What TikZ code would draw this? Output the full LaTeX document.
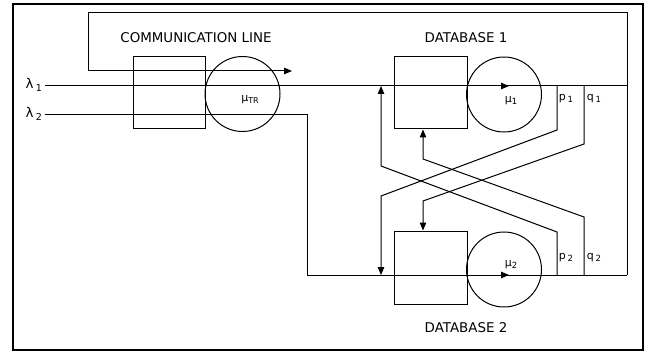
\documentclass[tikz,border=0pt]{standalone}
\usepackage{fontspec}
\setmainfont{DejaVu Sans}
\usetikzlibrary{arrows.meta}
\begin{document}
\begin{tikzpicture}[x=1pt,y=-1pt,
  wire/.style={line width=1pt},
  arr/.style={wire,-{Triangle[length=8pt,width=6.5pt]}},
  boxnode/.style={draw,line width=1pt,inner sep=0pt,minimum width=72pt,minimum height=72pt},
  circnode/.style={draw,line width=1pt,circle,inner sep=0pt,minimum size=75pt},
  lbl/.style={inner sep=0pt,font=\fontsize{13.4}{15}\selectfont},
  sml/.style={inner sep=0pt,font=\fontsize{11}{13}\selectfont}]
\useasboundingbox (0,0) rectangle (649,353);
\draw[line width=2.8pt] (13,4) rectangle (643,350);
% queues
\node[boxnode] (cbox) at (169,93) {};
\node[circnode] (ccirc) at (242.5,94) {};
\node[boxnode,minimum width=73pt] (b1) at (430.5,93) {};
\node[circnode] (c1) at (504,94.5) {};
\node[boxnode,minimum width=73pt,minimum height=73pt] (b2) at (430.5,267.5) {};
\node[circnode] (c2) at (504,269.5) {};
% titles
\node[lbl] (tcom) at (196,38) {COMMUNICATION LINE};
\node[lbl] (tdb1) at (466,38) {DATABASE 1};
\node[lbl] (tdb2) at (466,328) {DATABASE 2};
% coordinates
\coordinate (l1s) at (45,86);
\coordinate (l1e) at (627,86);
\coordinate (l2s) at (45,115);
\coordinate (l2c) at (307,115);
\coordinate (l2d) at (307,275);
\coordinate (l2e) at (627,275);
\coordinate (la) at (88,71);
\coordinate (lb) at (88,13);
\coordinate (lc) at (627,13);
\coordinate (ltip) at (292,71);
\coordinate (m1a) at (470,86);
\coordinate (m1t) at (509,86);
\coordinate (m2a) at (470,275);
\coordinate (m2t) at (509,275);
% lambda lines
\node[lbl,anchor=east] (lam1) at (42,85) {λ\,\raisebox{-2.5pt}{\fontsize{9.5}{10}\selectfont 1}};
\node[lbl,anchor=east] (lam2) at (42,114) {λ\,\raisebox{-2.5pt}{\fontsize{9.5}{10}\selectfont 2}};
\draw[wire] (l1s) -- (l1e);
\draw[wire] (l2s) -- (l2c) -- (l2d) -- (l2e);
\draw[wire] (l1e) -- (lc) -- (lb) -- (la);
\draw[arr] (la) -- (ltip);
\draw[wire] (lc) -- (l2e);
\draw[arr] (m1a) -- (m1t);
\draw[arr] (m2a) -- (m2t);
% feedback routes
\coordinate (p1a) at (557,86);  \coordinate (p1b) at (557,130);
\coordinate (p1c) at (381,196); \coordinate (p1d) at (381,275);
\coordinate (q1a) at (584,86);  \coordinate (q1b) at (584,144);
\coordinate (q1c) at (423,201); \coordinate (q1d) at (b2.north -| q1c);
\coordinate (p2a) at (557,275); \coordinate (p2b) at (557,232);
\coordinate (p2c) at (381,166); \coordinate (p2d) at (381,86);
\coordinate (q2a) at (584,275); \coordinate (q2b) at (584,217);
\coordinate (q2c) at (423,159); \coordinate (q2d) at (b1.south -| q2c);
\draw[arr] (p1a) -- (p1b) -- (p1c) -- (p1d);
\draw[arr] (q1a) -- (q1b) -- (q1c) -- (q1d);
\draw[arr] (p2a) -- (p2b) -- (p2c) -- (p2d);
\draw[arr] (q2a) -- (q2b) -- (q2c) -- (q2d);
% labels
\node[sml] (mtr) at (250,100) {μ\raisebox{-2pt}{\fontsize{8}{9}\selectfont TR}};
\node[sml] (mu1) at (511,101) {μ\raisebox{-2pt}{\fontsize{8.5}{9}\selectfont 1}};
\node[sml] (mu2) at (511,265) {μ\raisebox{-2pt}{\fontsize{8.5}{9}\selectfont 2}};
\node[sml] (lp1) at (566,99) {p\,\raisebox{-2pt}{\fontsize{8.5}{9}\selectfont 1}};
\node[sml] (lq1) at (594,99) {q\,\raisebox{-2pt}{\fontsize{8.5}{9}\selectfont 1}};
\node[sml] (lp2) at (566,258) {p\,\raisebox{-2pt}{\fontsize{8.5}{9}\selectfont 2}};
\node[sml] (lq2) at (594,258) {q\,\raisebox{-2pt}{\fontsize{8.5}{9}\selectfont 2}};
\end{tikzpicture}
\end{document}
